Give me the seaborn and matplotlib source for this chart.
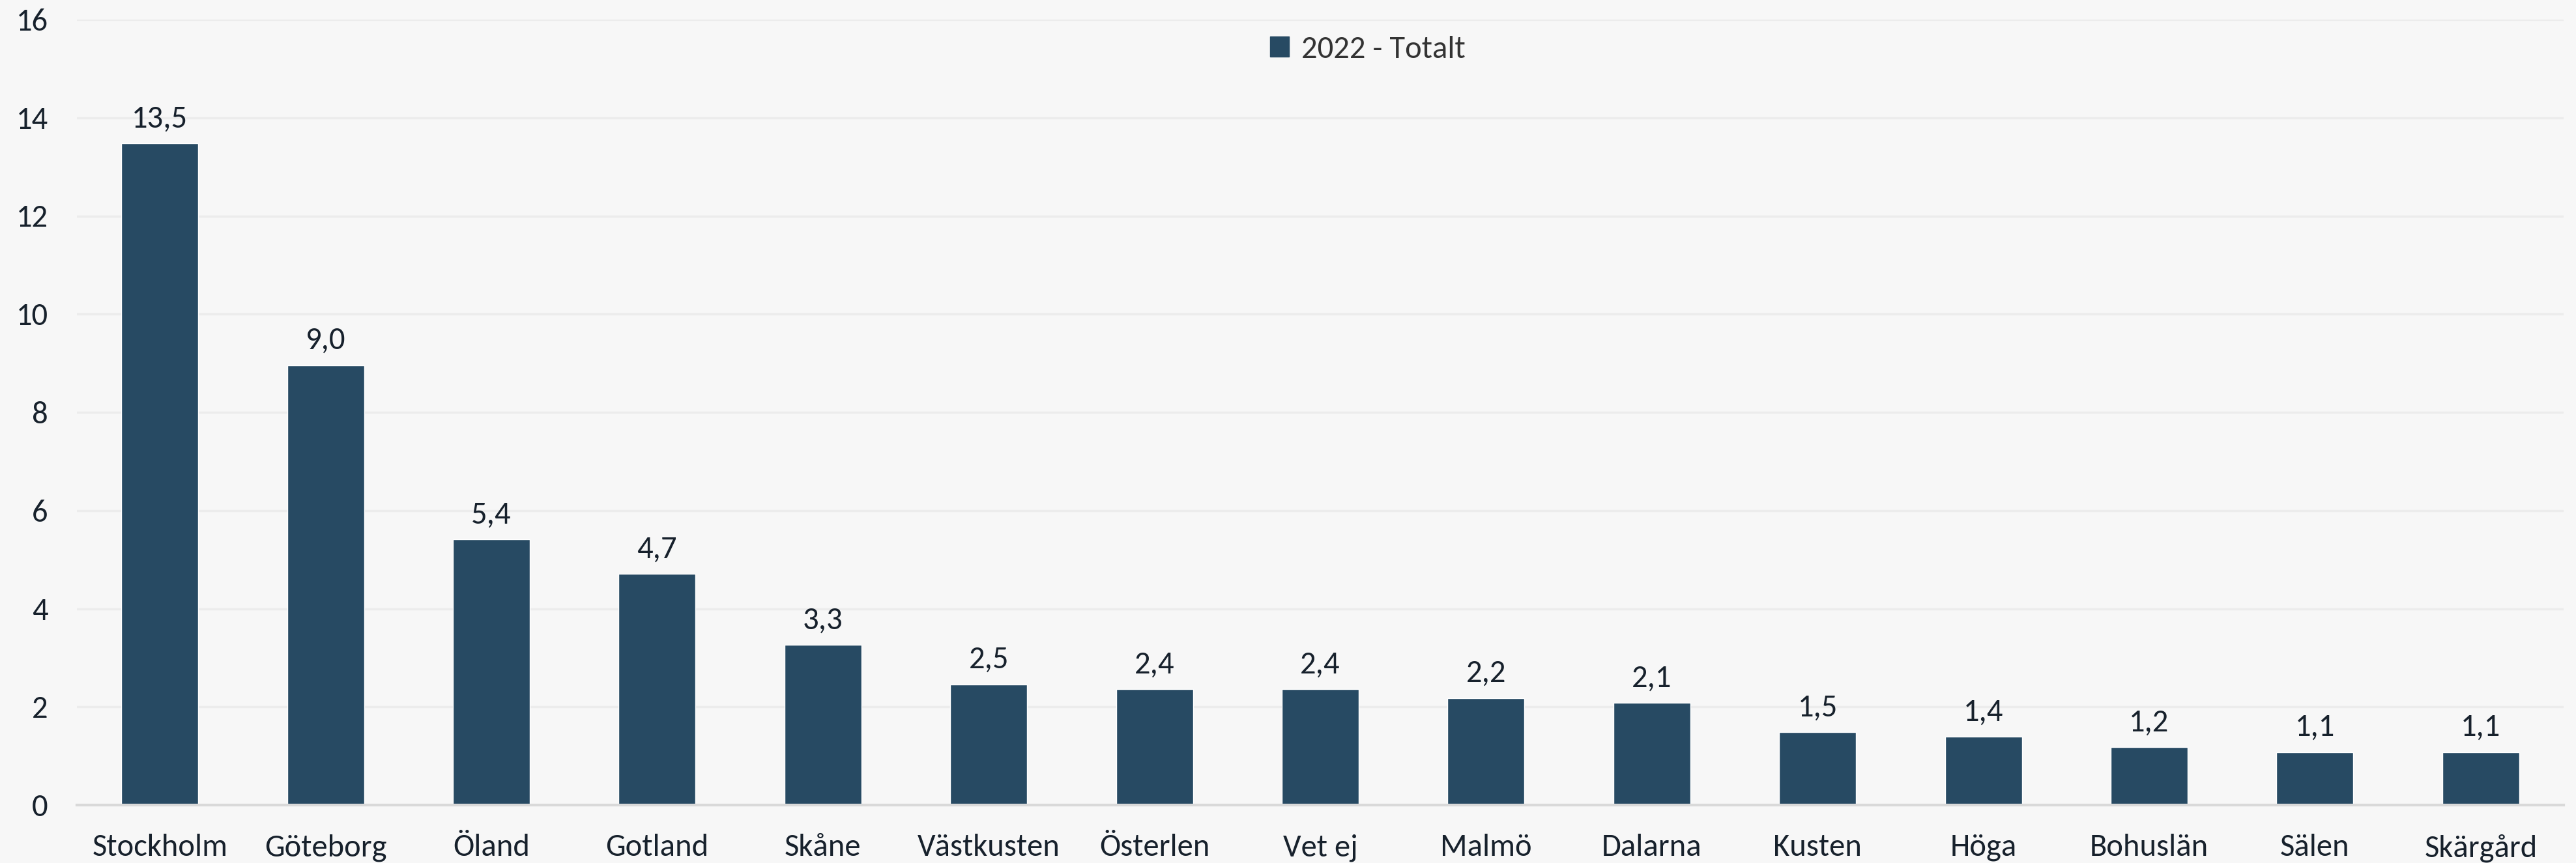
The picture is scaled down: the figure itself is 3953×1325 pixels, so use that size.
import numpy as np
import pandas as pd
import matplotlib.pyplot as plt
import seaborn as sns

# destinationer 2022 (andel, %)
regions = ['Stockholm', 'Göteborg', 'Öland', 'Gotland', 'Skåne', 'Västkusten',
           'Österlen', 'Vet ej', 'Malmö', 'Dalarna', 'Kusten', 'Höga',
           'Bohuslän', 'Sälen', 'Skärgård']
values = [13.48, 8.96, 5.41, 4.71, 3.26, 2.46, 2.36, 2.36, 2.18, 2.08,
          1.48, 1.39, 1.18, 1.08, 1.08]
series = '2022 - Totalt'
yticks = [0, 2, 4, 6, 8, 10, 12, 14, 16]

df = pd.DataFrame({'region': regions, 'value': values, 'serie': series})

bg = '#F7F7F7'
bar_col = '#274A63'
txt = '#17212C'

sns.set_theme(style='white', rc={'axes.facecolor': bg, 'figure.facecolor': bg})
plt.rcParams['font.family'] = ['Carlito', 'Liberation Sans Narrow', 'Open Sans', 'DejaVu Sans']

fig = plt.figure(figsize=(39.53, 13.25), dpi=100)
ax = fig.add_axes([118 / 3953, 1 - 1236 / 1325, (3934 - 118) / 3953, (1236 - 30) / 1325])

sns.barplot(data=df, x='region', y='value', hue='serie', palette=[bar_col],
            width=0.464, ax=ax, legend=False, saturation=1)

ax.set_ylim(0, 16)
ax.set_xlim(-0.5, len(regions) - 0.5)
ax.set_yticks(yticks)
ax.yaxis.grid(True, color='#ECECEC', linewidth=2.5)
ax.set_axisbelow(True)
for s in ['top', 'right', 'left']:
    ax.spines[s].set_visible(False)
ax.spines['bottom'].set_color('#D9D9D9')
ax.spines['bottom'].set_linewidth(3)
ax.tick_params(axis='both', length=0, labelsize=35, colors=txt)
ax.tick_params(axis='x', pad=32)
ax.tick_params(axis='y', pad=32)
ax.set_xlabel('')
ax.set_ylabel('')

for c in ax.containers:
    ax.bar_label(c, labels=[f'{v:.1f}'.replace('.', ',') for v in values],
                 padding=12, fontsize=35, color=txt)

handle = plt.Rectangle((0, 0), 1, 1, color=bar_col)
fig.legend([handle], [series], loc='center', bbox_to_anchor=(0.531, 0.943),
           frameon=False, fontsize=35, labelcolor='#333333',
           handlelength=0.6, handleheight=0.6, handletextpad=0.4)

fig.savefig('out.png', dpi=100, facecolor=bg)
